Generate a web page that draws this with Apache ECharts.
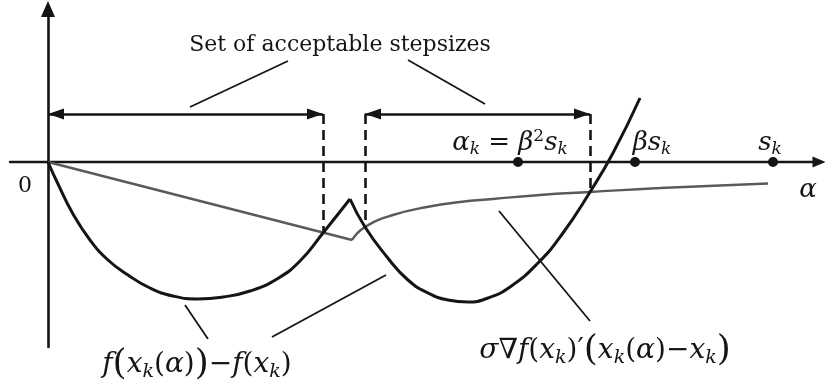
<!DOCTYPE html>
<html>
<head>
<meta charset="utf-8">
<script src="https://cdn.jsdelivr.net/npm/echarts@6/dist/echarts.min.js"></script>
<style>
  html, body { margin: 0; padding: 0; background: #fff; }
  #chart { width: 825px; height: 387px; }
</style>
</head>
<body>
<div id="chart"></div>
<script>
// f(x_k(alpha)) - f(x_k), split at the kink so each piece can be smoothed
const fBeforeKink = [
  [0, 0], [0.10, -0.22], [0.25, -0.52], [0.42, -0.78], [0.60, -0.98], [0.80, -1.13],
  [1.02, -1.26], [1.25, -1.34], [1.50, -1.37], [1.75, -1.35], [2.02, -1.29], [2.29, -1.17],
  [2.52, -0.99], [2.75, -0.71], [3.02, -0.37]
];
const fAfterKink = [
  [3.02, -0.37], [3.17, -0.65], [3.39, -0.95], [3.60, -1.18], [3.80, -1.31], [4.00, -1.38],
  [4.20, -1.40], [4.40, -1.36], [4.62, -1.25], [4.90, -1.01], [5.15, -0.71], [5.42, -0.30],
  [5.65, 0.09], [5.92, 0.64]
];

// sigma * grad f(x_k)' (x_k(alpha) - x_k): linear up to the kink, then concave
const gLinear = [[0, 0], [3.04, -0.78]];
const gCurve = [
  [3.04, -0.78], [3.17, -0.65], [3.45, -0.53], [3.79, -0.45], [4.12, -0.40], [4.45, -0.37],
  [4.92, -0.33], [5.42, -0.30], [6.12, -0.26], [7.20, -0.215]
];

// trial stepsizes beta^2 s_k, beta s_k, s_k on the alpha axis
const trialSteps = [4.70, 5.87, 7.25];

// intervals of acceptable stepsizes and the level of their double arrows
const acceptableIntervals = [[0, 2.75], [3.17, 5.42]];
const arrowLevel = 0.48;

// interval boundaries and where each one meets the curves
const boundaryAlpha = [2.75, 3.17, 5.42];
const boundaryValue = [-0.71, -0.65, -0.30];

// leader lines from the captions to what they describe
const leaderLines = [
  [[1.42, 0.55], [2.40, 1.01]],
  [[3.60, 1.02], [4.37, 0.58]],
  [[1.37, -1.43], [1.60, -1.77]],
  [[2.24, -1.75], [3.38, -1.13]],
  [[4.51, -0.49], [5.42, -1.59]]
];

const SERIF = 'DejaVu Serif';
const INK = '#151515';
const HEAD = [11, 16];

function mathStyles(size, subSize) {
  return {
    m:   { fontFamily: SERIF, fontStyle: 'italic', fontSize: size, color: INK },
    r:   { fontFamily: SERIF, fontSize: size, color: INK },
    big: { fontFamily: SERIF, fontSize: Math.round(size * 1.27), color: INK },
    sub: { fontFamily: SERIF, fontStyle: 'italic', fontSize: subSize, color: INK,
           padding: [Math.round(size * 0.5), 0, 0, 0] },
    sup: { fontFamily: SERIF, fontSize: subSize, color: INK,
           padding: [0, 0, Math.round(size * 0.46), 0] },
    t:   { fontFamily: SERIF, fontSize: 22, color: INK },
    z:   { fontFamily: SERIF, fontSize: 22, color: INK }
  };
}
const axisRich = mathStyles(26, 17);
const curveRich = mathStyles(28, 19);

// captions, anchored in axis units
const captions = [
  { at: [2.92, 1.17], rich: axisRich, text: '{t|Set of acceptable stepsizes}' },
  { at: [4.62, 0.19], rich: axisRich, text: '{m|α}{sub|k}{r| = }{m|β}{sup|2}{m|s}{sub|k}' },
  { at: [6.04, 0.19], rich: axisRich, text: '{m|βs}{sub|k}' },
  { at: [7.22, 0.19], rich: axisRich, text: '{m|s}{sub|k}' },
  { at: [7.60, -0.28], rich: axisRich, text: '{m|α}' },
  { at: [-0.23, -0.24], rich: axisRich, text: '{z|0}' },
  { at: [1.49, -2.03], rich: curveRich,
    text: '{m|f}{big|(}{m|x}{sub|k}{r|(}{m|α}{r|)}{big|)}{r|−}{m|f}{r|(}{m|x}{sub|k}{r|)}' },
  { at: [5.57, -1.89], rich: curveRich,
    text: '{m|σ}{r|∇}{m|f}{r|(}{m|x}{sub|k}{r|)′}{big|(}{m|x}{sub|k}{r|(}{m|α}{r|)−}{m|x}{sub|k}{big|)}' }
];

const chart = echarts.init(document.getElementById('chart'), null, { renderer: 'canvas' });

const option = {
  animation: false,
  backgroundColor: '#ffffff',
  grid: { left: 10, right: 6, top: 9, bottom: 40, containLabel: false },
  xAxis: {
    type: 'value', min: -0.38, max: 7.71,
    axisLine: { onZero: true, symbol: ['none', 'triangle'], symbolSize: [11, 13],
                lineStyle: { color: INK, width: 2.4 } },
    axisTick: { show: false }, axisLabel: { show: false }, splitLine: { show: false }
  },
  yAxis: {
    type: 'value', min: -1.85, max: 1.53,
    axisLine: { onZero: true, symbol: ['none', 'triangle'], symbolSize: [14, 16],
                lineStyle: { color: INK, width: 2.6 } },
    axisTick: { show: false }, axisLabel: { show: false }, splitLine: { show: false }
  },
  series: [
    {
      type: 'line', data: gLinear, showSymbol: false, symbol: 'none',
      lineStyle: { color: '#5a5a5a', width: 2.4 }, z: 3
    },
    {
      type: 'line', data: gCurve, smooth: 0.5, showSymbol: false, symbol: 'none',
      lineStyle: { color: '#5a5a5a', width: 2.4 }, z: 3
    },
    {
      type: 'line', data: fBeforeKink, smooth: 0.5, showSymbol: false, symbol: 'none',
      lineStyle: { color: INK, width: 3 }, z: 4
    },
    {
      type: 'line', data: fAfterKink, smooth: 0.5, showSymbol: false, symbol: 'none',
      lineStyle: { color: INK, width: 3 }, z: 4
    },
    {
      // dashed boundaries of the acceptable intervals
      type: 'lines', coordinateSystem: 'cartesian2d',
      data: boundaryAlpha.map((a, i) => ({ coords: [[a, arrowLevel], [a, boundaryValue[i]]] })),
      symbol: ['none', 'none'],
      lineStyle: { color: INK, width: 2.6, type: [10, 6], opacity: 1 }, z: 5
    },
    {
      // shafts of the double arrows
      type: 'lines', coordinateSystem: 'cartesian2d',
      data: acceptableIntervals.map(([a, b]) => ({ coords: [[a, arrowLevel], [b, arrowLevel]] })),
      symbol: ['none', 'none'],
      lineStyle: { color: INK, width: 2.6, opacity: 1 }, z: 5
    },
    {
      // left-pointing heads, tip on the interval start
      type: 'scatter', data: acceptableIntervals.map(([a]) => [a, arrowLevel]),
      symbol: 'triangle', symbolSize: HEAD, symbolRotate: 90, symbolOffset: [HEAD[1] / 2, 0],
      itemStyle: { color: INK, opacity: 1 }, silent: true, z: 6
    },
    {
      // right-pointing heads, tip on the interval end
      type: 'scatter', data: acceptableIntervals.map(([, b]) => [b, arrowLevel]),
      symbol: 'triangle', symbolSize: HEAD, symbolRotate: -90, symbolOffset: [-HEAD[1] / 2, 0],
      itemStyle: { color: INK, opacity: 1 }, silent: true, z: 6
    },
    {
      type: 'lines', coordinateSystem: 'cartesian2d',
      data: leaderLines.map(c => ({ coords: c })),
      symbol: ['none', 'none'],
      lineStyle: { color: INK, width: 1.8, opacity: 1 }, z: 5
    },
    {
      type: 'scatter', data: trialSteps.map(v => [v, 0]),
      symbol: 'circle', symbolSize: 10, itemStyle: { color: INK, opacity: 1 }, z: 6
    },
    {
      type: 'scatter', clip: false, symbolSize: 0, silent: true, z: 7,
      itemStyle: { opacity: 1 },
      data: captions.map(c => ({
        value: c.at,
        label: { show: true, position: 'inside', formatter: c.text, rich: c.rich,
                 color: INK, textBorderWidth: 0 }
      }))
    }
  ]
};

chart.setOption(option);
</script>
</body>
</html>
